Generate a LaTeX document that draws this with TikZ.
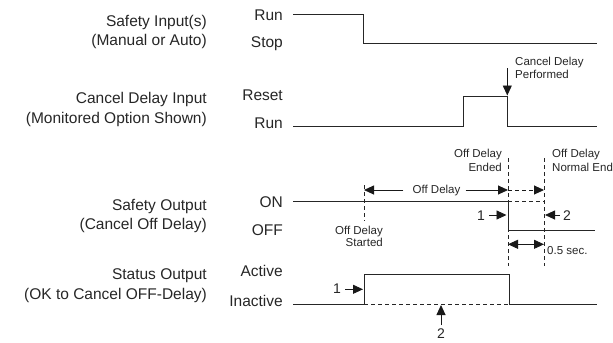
\documentclass[tikz,border=0pt]{standalone}
\usepackage{fontspec}
\setmainfont{Liberation Sans}
\usetikzlibrary{arrows.meta}
\begin{document}
\begin{tikzpicture}[x=1bp,y=-1bp,
  wave/.style={line width=1bp, draw=black!85, line join=miter},
  dsh/.style={line width=0.9bp, draw=black!85, dash pattern=on 4bp off 3bp},
  arr/.style={line width=0.9bp, draw=black!90, -{Triangle[length=10bp,width=9bp]}},
  darr/.style={line width=0.9bp, draw=black!90, {Triangle[length=10bp,width=9bp]}-{Triangle[length=10bp,width=9bp]}},
  big/.style={inner sep=0pt, text=black!85, font=\fontsize{15.5bp}{18bp}\selectfont},
  small/.style={inner sep=0pt, text=black!85, font=\fontsize{11.5bp}{14bp}\selectfont},
  num/.style={inner sep=0pt, text=black!85, font=\fontsize{14bp}{16bp}\selectfont}]

\useasboundingbox (0,0) rectangle (613,342);

% ---- left signal names
\node[big,anchor=base east] (l1a) at (207,26)    {Safety Input(s)};
\node[big,anchor=base east] (l1b) at (207,45.5)  {(Manual or Auto)};
\node[big,anchor=base east] (l2a) at (207,103.5) {Cancel Delay Input};
\node[big,anchor=base east] (l2b) at (207,123)   {(Monitored Option Shown)};
\node[big,anchor=base east] (l3a) at (207,210)   {Safety Output};
\node[big,anchor=base east] (l3b) at (207,229.3) {(Cancel Off Delay)};
\node[big,anchor=base east] (l4a) at (207,279.3) {Status Output};
\node[big,anchor=base east] (l4b) at (207,299)   {(OK to Cancel OFF-Delay)};

% ---- state names
\node[big,anchor=base east] (s1h) at (283,20.5)  {Run};
\node[big,anchor=base east] (s1l) at (283,47)    {Stop};
\node[big,anchor=base east] (s2h) at (283,100.5) {Reset};
\node[big,anchor=base east] (s2l) at (283,128.5) {Run};
\node[big,anchor=base east] (s3h) at (283,207.3) {ON};
\node[big,anchor=base east] (s3l) at (283,235)   {OFF};
\node[big,anchor=base east] (s4h) at (283,276.7) {Active};
\node[big,anchor=base east] (s4l) at (283,306.7) {Inactive};

% ---- waveforms
\draw[wave] (293,14) -- (363,14) -- (363,43) -- (597,43);
\draw[wave] (293,126) -- (463,126) -- (463,96) -- (507.3,96) -- (507.3,126) -- (597,126);
\draw[wave] (293,201) -- (508,201) -- (508,230.5) -- (595,230.5);
\draw[dsh] (508,201) -- (544,201);
\draw[wave] (293,304) -- (364,304) -- (364,274) -- (509,274) -- (509,304) -- (597,304);
\draw[dsh] (364,304) -- (509,304);

% ---- dashed markers
\draw[dsh] (364,185) -- (364,221);
\draw[dsh] (508,158) -- (508,266);
\draw[dsh] (544,158) -- (544,266);

% ---- cancel delay performed
\node[small,anchor=base west] (cd1) at (515,65)   {Cancel Delay};
\node[small,anchor=base west] (cd2) at (515,78.3) {Performed};
\coordinate (cdT) at (507.3,68);
\coordinate (cdH) at (507.3,95.5);
\draw[arr] (cdT) -- (cdH);

% ---- off delay
\node[small,anchor=base] (od) at (436.5,193.5) {Off Delay};
\coordinate (odL) at (364,190);
\coordinate (odR) at (508,190);
\coordinate (neR) at (544,190);
\draw[arr] ([xshift=-9bp]od.west |- odL) -- (odL);
\draw[arr] ([xshift=5bp]od.east |- odR) -- (odR);
\draw[arr, dash pattern=on 4bp off 3bp] (odR) -- (neR);

\node[small,anchor=base east] (oe1) at (502,157)   {Off Delay};
\node[small,anchor=base east] (oe2) at (502,171.5) {Ended};
\node[small,anchor=base west] (on1) at (552,157)   {Off Delay};
\node[small,anchor=base west] (on2) at (552,171.5) {Normal End};
\node[small,anchor=base east] (os1) at (383,234)   {Off Delay};
\node[small,anchor=base east] (os2) at (383,246.7) {Started};

% ---- 0.5 sec
\coordinate (hL) at (508,244.3);
\coordinate (hR) at (544,244.3);
\draw[darr] (hL) -- (hR);
\node[small,anchor=base west] (hs) at (547,254) {0.5 sec.};

% ---- numbered pointers
\node[num,anchor=base] (n1a) at (481,220) {1};
\coordinate (n1aH) at (506.5,215);
\draw[arr] ([xshift=4bp]n1a.east |- n1aH) -- (n1aH);

\node[num,anchor=base] (n2a) at (567,220) {2};
\coordinate (n2aH) at (545,215);
\draw[arr] ([xshift=-3bp]n2a.west |- n2aH) -- (n2aH);

\node[num,anchor=base] (n1b) at (337,293.3) {1};
\coordinate (n1bH) at (363,289.3);
\draw[arr] ([xshift=4bp]n1b.east |- n1bH) -- (n1bH);

\node[num,anchor=base] (n2b) at (441,338) {2};
\coordinate (n2bH) at (441,305);
\draw[arr] ([yshift=3bp]n2b.north) -- (n2bH);
\end{tikzpicture}
\end{document}
